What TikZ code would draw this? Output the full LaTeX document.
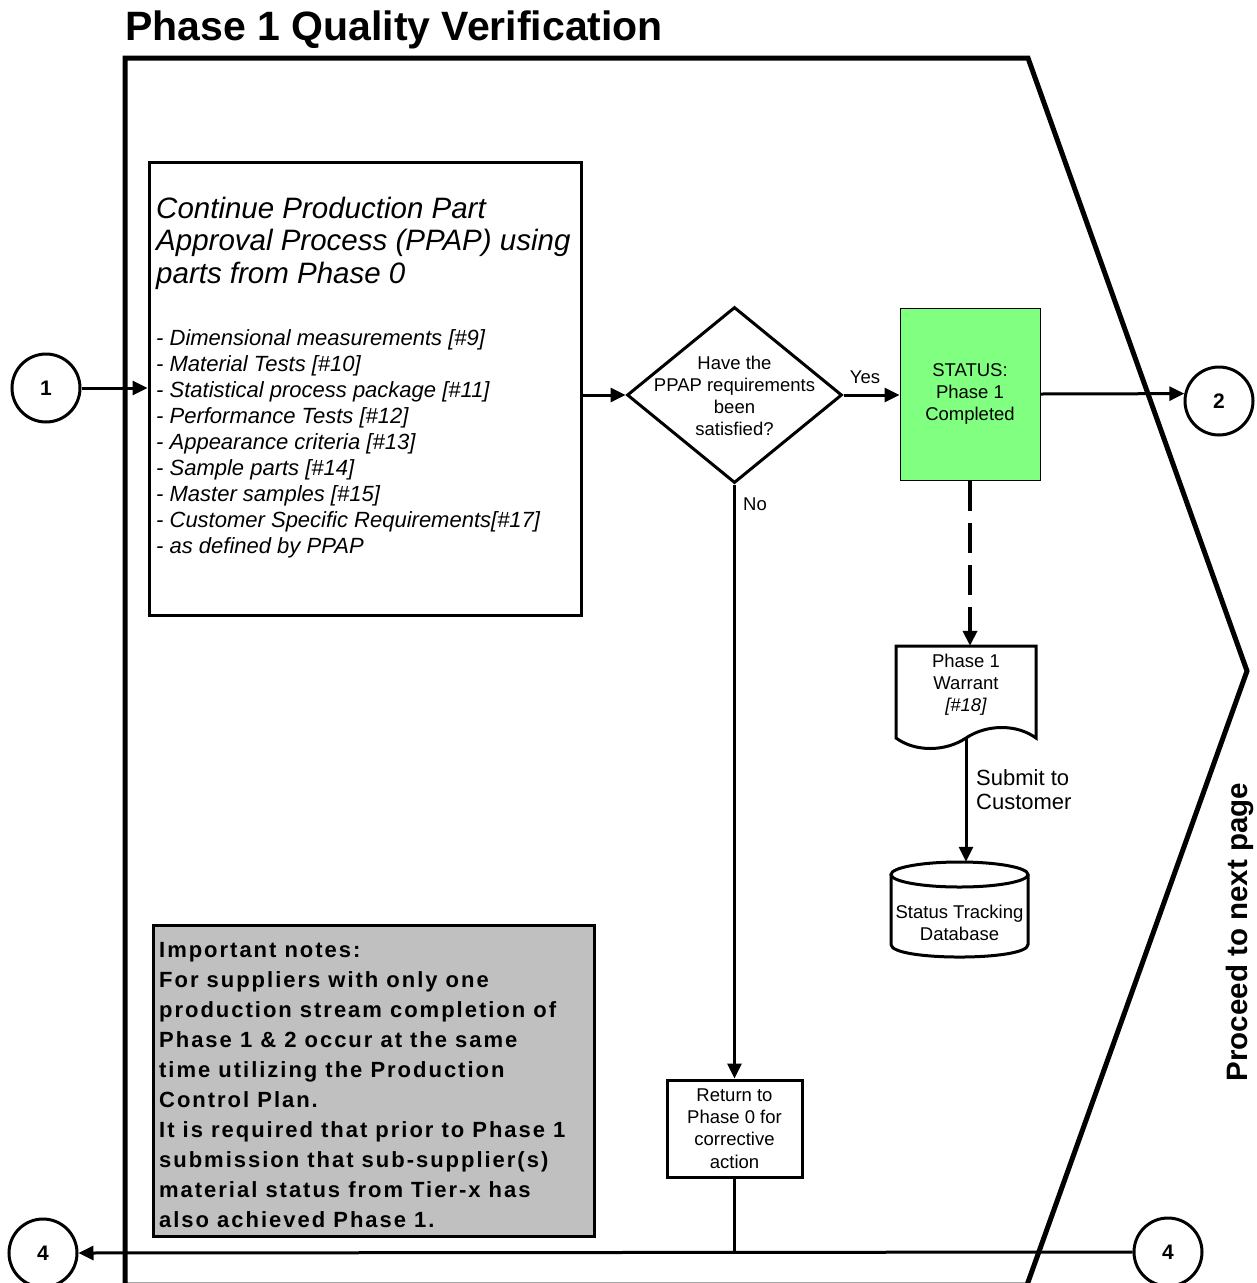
\documentclass[tikz,border=0pt]{standalone}
\usepackage{fontspec}
\setmainfont{Liberation Sans}
\newfontfamily\notesfont[LetterSpace=9]{Liberation Sans}
\usetikzlibrary{shapes.geometric,arrows.meta}
\tikzset{
  conn/.style={line width=3pt},
  arr/.style={-{Triangle[length=15pt,width=14pt]}},
  boxed/.style={draw, line width=3pt, rectangle, inner sep=0pt},
  circ/.style={circle, draw, line width=3pt, minimum size=68pt, inner sep=0pt, font=\bfseries\fontsize{21}{25}\selectfont},
  small/.style={font=\fontsize{18.5}{22.2}\selectfont, align=center, inner sep=0pt},
}
\begin{document}
\begin{tikzpicture}[x=1pt,y=-1pt]
\useasboundingbox (0,0) rectangle (1257,1283);
\clip (0,0) rectangle (1257,1283);
\fill[white] (0,0) rectangle (1257,1283);

% title
\node[anchor=base west, inner sep=0pt, font=\bfseries\fontsize{41}{49}\selectfont] (title) at (125,40) {Phase 1 Quality Verification};

% frame
\draw[line width=5pt, line join=miter] (125,58) -- (1028,58) -- (1247,671) -- (1027,1285) -- (125,1285) -- cycle;

% PPAP box
\node[boxed, minimum width=432pt, minimum height=453pt] (ppap) at (365,388.5) {};
\node[anchor=base west, inner sep=0pt] (ppaphead) at (156,218) {\begin{minipage}[t]{430pt}\raggedright\itshape\fontsize{29.5}{32.5}\selectfont Continue Production Part\\Approval Process (PPAP) using\\parts from Phase 0\end{minipage}};
\node[anchor=base west, inner sep=0pt] (ppaplist) at (156,345) {\begin{minipage}[t]{430pt}\raggedright\itshape\fontsize{22}{26}\selectfont - Dimensional measurements [\#9]\\- Material Tests [\#10]\\- Statistical process package [\#11]\\- Performance Tests [\#12]\\- Appearance criteria [\#13]\\- Sample parts [\#14]\\- Master samples [\#15]\\- Customer Specific Requirements[\#17]\\- as defined by PPAP\end{minipage}};

% notes box
\node[boxed, fill={rgb,255:red,192;green,192;blue,192}, minimum width=441pt, minimum height=311pt] (notes) at (373.5,1080.5) {};
\node[anchor=base west, inner sep=0pt] (notestext) at (159,957) {\begin{minipage}[t]{440pt}\raggedright\notesfont\bfseries\fontsize{22}{30}\selectfont Important notes:\\For suppliers with only one\\production stream completion of\\Phase 1 \& 2 occur at the same\\time utilizing the Production\\Control Plan.\\It is required that prior to Phase 1\\submission that sub-supplier(s)\\material status from Tier-x has\\also achieved Phase 1.\end{minipage}};

% decision
\node[diamond, draw, line width=3pt, minimum width=215pt, minimum height=176pt, inner sep=0pt] (dia) at (734.5,395) {};
\node[small] (diatext) at (734.5,396) {Have the\\PPAP requirements\\been\\satisfied?};
\node[small] (yes) at (865,377) {Yes};
\node[small, anchor=west] (no) at (743,504) {No};

% status box
\node[draw, line width=1pt, fill={rgb,255:red,128;green,255;blue,128}, minimum width=140pt, minimum height=172pt, small] (green) at (970,394) {STATUS:\\Phase 1\\Completed};

% circles
\node[circ] (c1) at (46,388) {1};
\node[circ] (c2) at (1219,401) {2};
\node[circ] (c4l) at (43,1253) {4};
\node[circ] (c4r) at (1168,1252) {4};

% document
\node[minimum width=140pt, minimum height=92pt, inner sep=0pt] (doc) at (966,692) {};
\draw[line width=3pt, line join=miter] (896,738) -- (896,646) -- (1036,646) -- (1036,738)
  .. controls (1017,724) and (987,724) .. (966,738)
  .. controls (945,752) and (915,752) .. (896,738) -- cycle;
\node[small] (doctext) at (966,685) {Phase 1\\Warrant\\\textit{[\#18]}};

% database
\node[minimum width=137pt, minimum height=95pt, inner sep=0pt] (db) at (959.5,909.5) {};
\draw[line width=3pt] (891,874.5) -- (891,944.5) .. controls (891,961.2) and (1028,961.2) .. (1028,944.5) -- (1028,874.5);
\draw[line width=3pt] (959.5,874.5) ellipse [x radius=68.5, y radius=12.5];
\node[small] (dbtext) at (959.5,923) {Status Tracking\\Database};

% return box
\node[boxed, minimum width=135pt, minimum height=97pt, small] (ret) at (734.5,1128.5) {Return to\\Phase 0 for\\corrective\\action};

% submit label
\node[anchor=west, align=left, inner sep=0pt, font=\fontsize{22}{24}\selectfont] (submit) at (976,790) {Submit to\\Customer};

% proceed
\node[rotate=90, anchor=base, inner sep=0pt, font=\bfseries\fontsize{29.5}{35}\selectfont] (proceed) at (1247,932) {Proceed to next page};

% connectors
\draw[conn,arr] (c1.east) -- (c1.east -| ppap.west);
\draw[conn,arr] (ppap.east |- dia.west) -- (dia.west);
\draw[conn,arr] (dia.east) -- (green.west |- dia.east);
\draw[conn,arr] (green.east) -- (c2.168);
\draw[line width=4.5pt, dash pattern=on 30pt off 12pt, arr] (green.south) -- (green.south |- doc.north);
\draw[conn,arr] (doc.south) -- (doc.south |- db.north);
\draw[conn,arr] (dia.south) -- (dia.south |- ret.north);
\coordinate (join) at (ret.south |- c4r.west);
\draw[conn] (ret.south) -- (join);
\draw[conn,arr] (c4r.west) -- (c4l.east);
\end{tikzpicture}
\end{document}
